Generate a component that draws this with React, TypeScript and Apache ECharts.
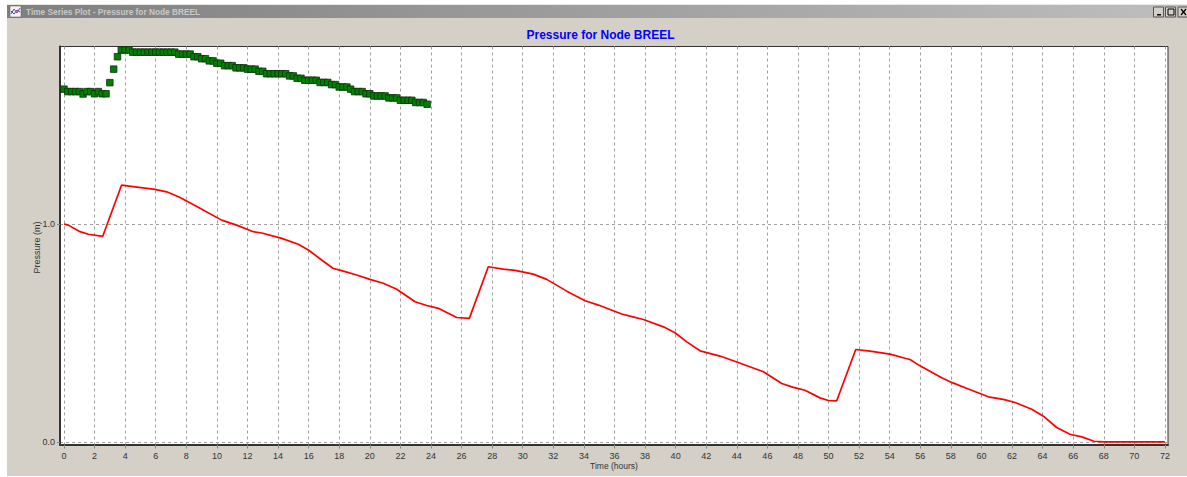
import React, { useEffect, useRef } from "react";
import * as echarts from "echarts";

const titleText = "Pressure for Node BREEL";
const windowTitle = "Time Series Plot - Pressure for Node BREEL";
const xName = "Time (hours)";
const yName = "Pressure (m)";
const xTicks = [0,2,4,6,8,10,12,14,16,18,20,22,24,26,28,30,32,34,36,38,40,42,44,46,48,50,52,54,56,58,60,62,64,66,68,70,72];
const yTicks = [0, 1];

const redTimes = [0,0.28,1.05,1.6,2.53,3.77,4.64,5.95,6.72,7.59,8.78,10.31,11.29,12.38,12.93,14.24,15.32,15.98,16.85,17.61,18.16,19.14,20.01,20.88,21.76,22.96,23.72,24.48,25.03,25.68,26.51,27.75,28.73,29.5,30.69,31.57,32.88,34.08,34.95,36.47,37.02,37.89,39.2,39.96,40.73,41.6,42.9,44.0,45.74,46.94,47.7,48.46,49.44,49.99,50.53,51.78,52.71,54.02,55.0,55.33,55.98,57.4,58.05,59.14,60.45,61.43,62.2,63.29,64.05,64.92,65.79,66.56,67.36,68,70,72];
const redValues = [1.0,0.995,0.965,0.953,0.943,1.179,1.171,1.159,1.148,1.122,1.077,1.018,0.995,0.965,0.959,0.934,0.907,0.881,0.835,0.796,0.786,0.766,0.746,0.728,0.701,0.643,0.626,0.613,0.594,0.571,0.567,0.804,0.793,0.787,0.770,0.746,0.692,0.648,0.628,0.587,0.577,0.562,0.528,0.501,0.459,0.418,0.394,0.367,0.322,0.268,0.250,0.237,0.202,0.19,0.188,0.424,0.417,0.403,0.384,0.378,0.349,0.294,0.273,0.243,0.207,0.195,0.181,0.15,0.118,0.066,0.035,0.023,0.003,0,0,0];

const greenStepHours = 0.25;
const greenValues = [
  1.619,1.608,1.608,1.608,1.608,1.597,1.608,1.608,1.598,1.608,1.598,1.598,
  1.649,1.711,1.768,1.799,1.799,1.799,
  1.789,1.789,1.789,1.789,1.789,1.789,1.789,1.789,1.789,1.789,1.789,1.789,
  1.780,1.780,1.780,1.780,1.768,1.768,1.759,1.759,1.749,1.749,1.738,1.738,
  1.727,1.727,1.727,1.717,1.717,1.717,1.711,1.711,1.711,1.701,1.701,
  1.690,1.690,1.690,1.690,1.690,1.690,1.680,1.680,1.669,1.669,
  1.660,1.660,1.660,1.660,1.650,1.650,1.650,1.640,1.640,
  1.629,1.629,1.629,1.619,1.608,1.608,1.608,1.598,1.598,
  1.588,1.588,1.588,1.588,1.579,1.579,1.579,
  1.568,1.568,1.568,1.568,1.558,1.558,1.558,1.550,
];

export default function App() {
  const ref = useRef<HTMLDivElement>(null);
  useEffect(() => {
    document.body.style.margin = "0";
    const chart = echarts.init(ref.current!, undefined, { renderer: "svg" });
    const font = '"Liberation Sans", Arial, sans-serif';
    const btn = (x: number, w: number) => ({
      type: "rect", shape: { x, y: 7, width: w, height: 10 },
      style: { fill: "#d4d0c8", stroke: "#555", lineWidth: 1 },
    });
    chart.setOption({
      animation: false,
      backgroundColor: "#d4d0c8",
      title: {
        text: titleText, left: 595.5, top: 24, textAlign: "center",
        textStyle: { color: "#0000ff", fontFamily: font, fontSize: 12, fontWeight: "bold" },
      },
      graphic: [
        { type: "rect", shape: { x: 0, y: 0, width: 1187, height: 4.5 }, style: { fill: "#ffffff" } },
        { type: "rect", shape: { x: 0, y: 0, width: 7, height: 477 }, style: { fill: "#ffffff" } },
        { type: "rect", shape: { x: 0, y: 476, width: 1187, height: 1 }, style: { fill: "#ffffff" } },
        {
          type: "rect", shape: { x: 7, y: 5, width: 1180, height: 13 },
          style: {
            fill: new echarts.graphic.LinearGradient(0, 0, 1, 0, [
              { offset: 0, color: "#7f7f7f" },
              { offset: 1, color: "#bebebe" },
            ]),
          },
        },
        { type: "rect", shape: { x: 10, y: 6, width: 11, height: 11 }, style: { fill: "#f4f4f8", stroke: "#555", lineWidth: 0.5 } },
        { type: "polyline", shape: { points: [[11, 14], [14, 9], [17, 13], [20, 8]] }, style: { stroke: "#c03030", fill: "none", lineWidth: 1 } },
        { type: "polyline", shape: { points: [[11, 11], [14, 14], [17, 10], [20, 12]] }, style: { stroke: "#3050c0", fill: "none", lineWidth: 1 } },
        {
          type: "text", x: 26, y: 12,
          style: { text: windowTitle, fill: "#c8c8c8", font: `bold 8.3px ${font}`, textVerticalAlign: "middle" },
        },
        btn(1153.5, 10), btn(1165.5, 10), btn(1178, 10),
        { type: "rect", shape: { x: 1157, y: 14, width: 4, height: 1.5 }, style: { fill: "#000" } },
        { type: "rect", shape: { x: 1168, y: 9, width: 6, height: 6 }, style: { fill: "none", stroke: "#000", lineWidth: 1 } },
        { type: "line", shape: { x1: 1181, y1: 9, x2: 1186, y2: 15 }, style: { stroke: "#000", lineWidth: 1.2 } },
        { type: "line", shape: { x1: 1186, y1: 9, x2: 1181, y2: 15 }, style: { stroke: "#000", lineWidth: 1.2 } },
      ],
      grid: {
        left: 60, top: 46.5, width: 1108, height: 398, show: true,
        backgroundColor: "#ffffff", borderColor: "#333333", borderWidth: 1,
      },
      xAxis: {
        type: "value", min: -0.26, max: 72.2,
        name: xName, nameLocation: "middle", nameGap: 17, nameMoveOverlap: false,
        nameTextStyle: { color: "#333", fontFamily: font, fontSize: 8.5 },
        axisLine: { show: true, onZero: false, lineStyle: { color: "#333333", width: 2 } },
        axisTick: { show: true, customValues: xTicks, length: 4, lineStyle: { color: "#888" } },
        axisLabel: {
          customValues: xTicks, color: "#333", fontFamily: font, fontSize: 9, margin: 7,
          showMinLabel: true, showMaxLabel: true, hideOverlap: false,
        },
        splitLine: { show: true, lineStyle: { color: "#a0a0a0", type: [3, 3], width: 1 } },
      },
      yAxis: {
        type: "value", min: -0.012, max: 1.815,
        name: yName, nameLocation: "middle", nameGap: 19, nameMoveOverlap: false,
        nameTextStyle: { color: "#333", fontFamily: font, fontSize: 9, padding: [0, 4, 0, 0] },
        axisLine: { show: true, onZero: false, lineStyle: { color: "#333333", width: 2 } },
        axisTick: { show: true, customValues: yTicks, length: 3, lineStyle: { color: "#888" } },
        axisLabel: {
          customValues: yTicks, color: "#333", fontFamily: font, fontSize: 9, margin: 5,
          padding: [4, 0, 0, 0],
          formatter: (v: number) => v.toFixed(1),
        },
        splitLine: { show: true, lineStyle: { color: "#a0a0a0", type: [3, 3], width: 1 } },
      },
      series: [
        {
          name: "Simulated", type: "line", showSymbol: false, symbol: "none", smooth: false,
          lineStyle: { color: "#ff0000", width: 1.7 },
          data: redTimes.map((t, i) => [t, redValues[i]]),
          z: 3,
        },
        {
          name: "Observed", type: "scatter", symbol: "rect", symbolSize: 6.5,
          itemStyle: { color: "#007f00", borderColor: "#0f2f0f", borderWidth: 0.8, opacity: 1 },
          data: greenValues.map((v, i) => [i * greenStepHours, v]),
          z: 4,
        },
      ],
    });
    return () => chart.dispose();
  }, []);
  return <div ref={ref} style={{ width: 1187, height: 477, position: "absolute", left: 0, top: 0 }} />;
}
